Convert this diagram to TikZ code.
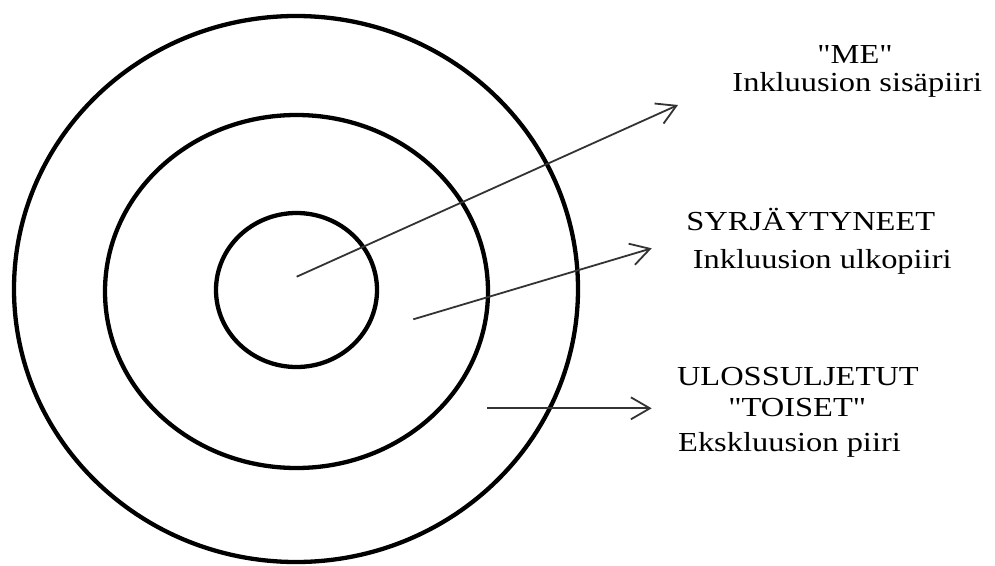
\documentclass[tikz,border=0pt]{standalone}
\usepackage{fontspec}
\setmainfont{Liberation Serif}
\newfontfamily\lblfont[FakeStretch=1.18]{Liberation Serif}
\usetikzlibrary{arrows.meta}
\tikzset{
  ring/.style={draw=black, line width=4.3pt},
  pointer/.style={draw=black!80, line width=1.8pt, -{Straight Barb[length=19pt, width=22pt, line width=1.8pt]}},
  lbl/.style={inner sep=0pt, anchor=base, font=\lblfont\fontsize{27.5}{30}\selectfont, text=black}
}
\begin{document}
\begin{tikzpicture}[x=1pt, y=-1pt]
\useasboundingbox (0,0) rectangle (995,565);
\fill[white] (0,0) rectangle (995,565);
% rings
\draw[ring] (296,289) ellipse [x radius=282, y radius=273];
\draw[ring] (296.5,291.5) ellipse [x radius=191.5, y radius=176.5];
\draw[ring] (296.5,290) ellipse [x radius=80.5, y radius=77];
% labels
\node[lbl] (me) at (855,63.5) {"ME"};
\node[lbl] (mesub) at (857.3,91) {Inkluusion sisäpiiri};
\node[lbl] (syr) at (810.8,230.7) {SYRJÄYTYNEET};
\node[lbl] (syrsub) at (822.2,268.3) {Inkluusion ulkopiiri};
\node[lbl] (ulos) at (797.8,385) {ULOSSULJETUT};
\node[lbl] (toiset) at (797.3,416.7) {"TOISET"};
\node[lbl] (ulossub) at (789.5,451.7) {Ekskluusion piiri};
% arrow points
\coordinate (a1) at (296.7,276.7);
\coordinate (b1) at (678,105);
\coordinate (a2) at (413.3,319.3);
\coordinate (b2) at (651.7,248.3);
\coordinate (a3) at (487.3,408.3);
\coordinate (b3) at (651.7,408.3);
\draw[pointer] (a1) -- (b1);
\draw[pointer] (a2) -- (b2);
\draw[pointer] (a3) -- (b3);
\end{tikzpicture}
\end{document}
